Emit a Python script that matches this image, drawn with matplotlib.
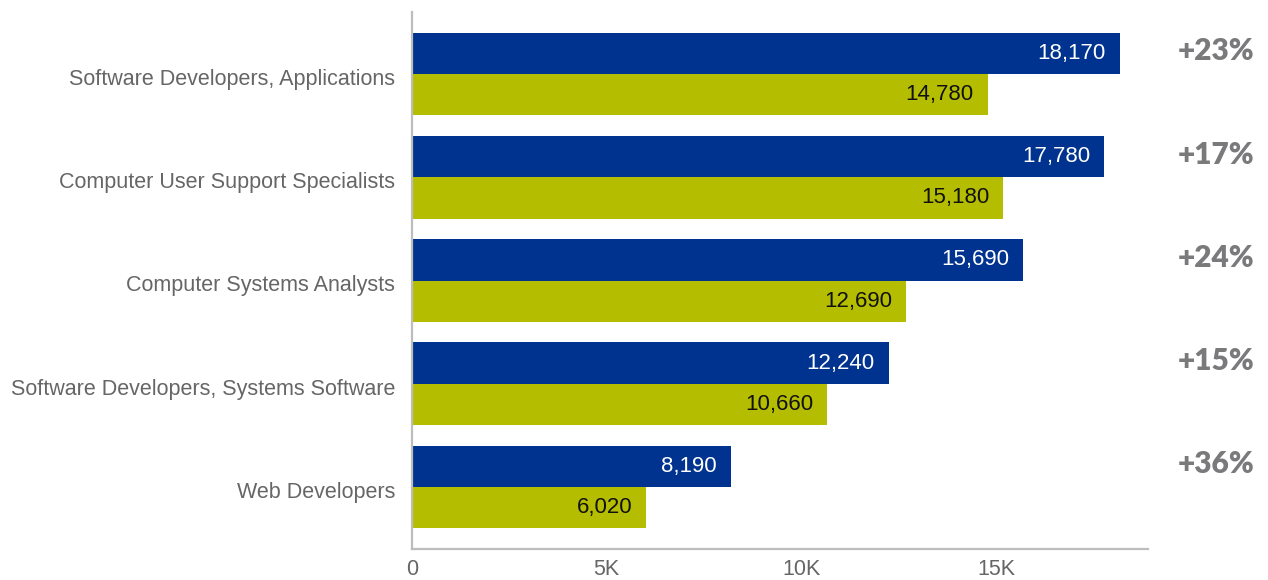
import matplotlib
matplotlib.use("Agg")
import matplotlib.pyplot as plt
import matplotlib.transforms as mtransforms
import numpy as np
from matplotlib import font_manager

categories = [
    "Software Developers, Applications",
    "Computer User Support Specialists",
    "Computer Systems Analysts",
    "Software Developers, Systems Software",
    "Web Developers",
]
future = [18170, 17780, 15690, 12240, 8190]
current = [14780, 15180, 12690, 10660, 6020]
growth = ["+23%", "+17%", "+24%", "+15%", "+36%"]
xticks = [0, 5000, 10000, 15000]
xtick_labels = ["0", "5K", "10K", "15K"]

BLUE = "#00338f"
OLIVE = "#b5bd00"
GRAY = "#666666"

names = {f.name for f in font_manager.fontManager.ttflist}
tick_font = "Liberation Sans Narrow" if "Liberation Sans Narrow" in names else "Liberation Sans"
plt.rcParams["font.family"] = ["Liberation Sans", "DejaVu Sans"]


def main():
    fig = plt.figure(figsize=(12.68, 5.8), dpi=100)
    ax = fig.add_axes([412 / 1268, 31 / 580, 736 / 1268, 537 / 580])

    y = np.arange(len(categories))
    h = 0.4
    ax.barh(y - h / 2, future, height=h, color=BLUE)
    ax.barh(y + h / 2, current, height=h, color=OLIVE)

    for i in range(len(categories)):
        ax.annotate(f"{future[i]:,}", (future[i], y[i] - h / 2),
                    xytext=(-10, 0), textcoords="offset points",
                    ha="right", va="center", color="white", fontsize=16)
        ax.annotate(f"{current[i]:,}", (current[i], y[i] + h / 2),
                    xytext=(-10, 0), textcoords="offset points",
                    ha="right", va="center", color="#111111", fontsize=16)

    # growth labels at the right of the figure
    trans = mtransforms.blended_transform_factory(fig.transFigure, ax.transData)
    for i, g in enumerate(growth):
        ax.text(1216 / 1268, y[i] - 0.22, g, transform=trans,
                ha="center", va="center", fontsize=21.5, fontweight="heavy",
                color="#7a7a7c", family=["Lato", "DejaVu Sans"])

    ax.set_ylim(len(categories) - 0.4, -0.6)
    ax.set_xlim(0, 18900)
    ax.set_yticks(y)
    ax.set_yticklabels(categories, fontsize=15.5, color=GRAY)
    ax.set_xticks(xticks)
    ax.set_xticklabels(xtick_labels, fontsize=15.5, color=GRAY,
                       family=[tick_font, "DejaVu Sans"])
    ax.tick_params(axis="y", length=0, pad=12)
    ax.tick_params(axis="x", length=0, pad=7)

    shift = mtransforms.ScaledTranslation(0, -3 / 100, fig.dpi_scale_trans)
    for lab in ax.get_yticklabels():
        lab.set_transform(lab.get_transform() + shift)

    for s in ["top", "right"]:
        ax.spines[s].set_visible(False)
    for s in ["left", "bottom"]:
        ax.spines[s].set_color("#bdbdbd")
        ax.spines[s].set_linewidth(1.6)

    fig.savefig("out.png", dpi=100)


if __name__ == "__main__":
    main()
